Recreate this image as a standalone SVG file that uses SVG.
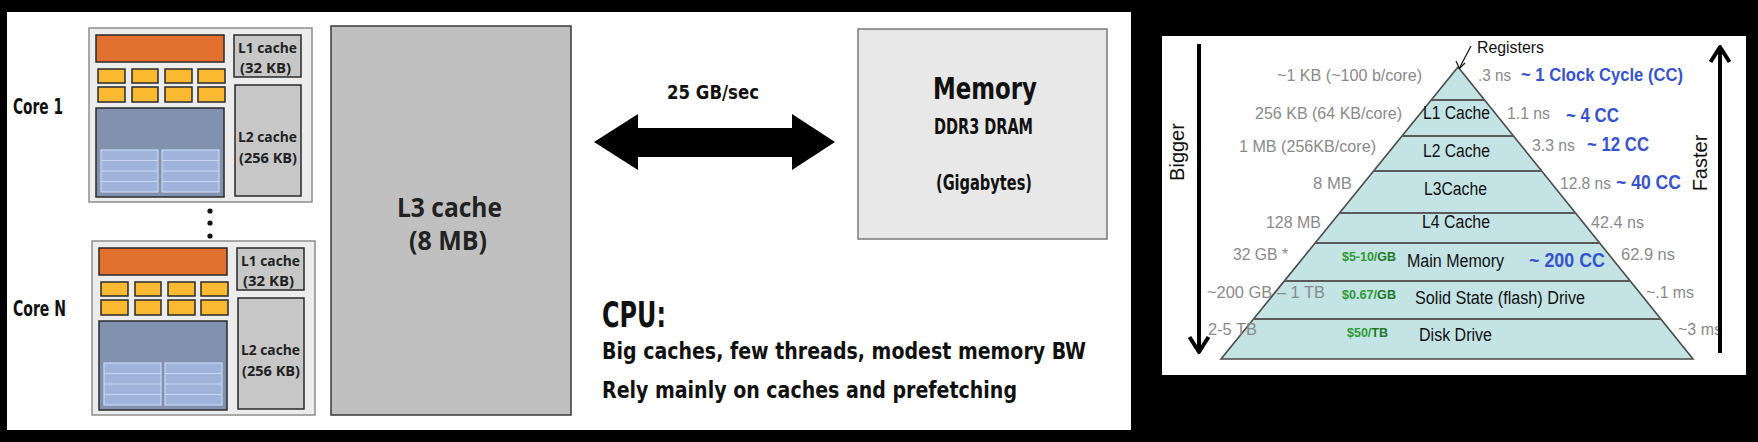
<svg xmlns="http://www.w3.org/2000/svg" width="1758" height="442" viewBox="0 0 1758 442">
<style>
.cond{font-family:"Liberation Sans Narrow","DejaVu Sans Condensed","Liberation Sans",Arial,sans-serif;font-weight:bold;fill:#111}
.semi{font-family:"Open Sans","Liberation Sans",Arial,sans-serif;font-weight:bold;fill:#222}
.ar{font-family:"Liberation Sans",Arial,sans-serif}
.gray{fill:#8a8a8a;font-size:17px}
.blk{fill:#111;font-size:18px}
.blue{fill:#3553d1;font-weight:bold;font-family:"Liberation Sans",Arial,sans-serif}
.grn{fill:#2f9a35;font-weight:bold;font-size:12px;font-family:"Liberation Sans",Arial,sans-serif}
.grn2{fill:#1f7a25}
.corebox{fill:#ececec;stroke:#8e8e8e;stroke-width:1.5}
.orange{fill:#e2702e;stroke:#2a2a2a;stroke-width:1.5}
.yel{fill:#fbb931;stroke:#2a2a2a;stroke-width:1.5}
.bluebox{fill:#8292ae;stroke:#2a2a2a;stroke-width:1.5}
.grid{fill:#9fb3db;stroke:#cbd8f4;stroke-width:1.2}
.cache{fill:#c7c7c7;stroke:#2a2a2a;stroke-width:1.5}
.band{fill:#c4e3e5;stroke:#4a4a4a;stroke-width:1.6}
.sep{stroke:#5a5a5a;stroke-width:1.8}
</style>
<rect x="0" y="0" width="1758" height="442" fill="#000"/>
<rect x="7" y="12" width="1124" height="418" fill="#fff"/>
<rect x="1162" y="36" width="584" height="339" fill="#fff"/>

<g id="core1">
  <rect class="corebox" x="89" y="28" width="223" height="174"/>
  <rect class="orange" x="96" y="35" width="128" height="27"/>
  <rect class="yel" x="98" y="69" width="27" height="14"/><rect class="yel" x="132" y="69" width="26" height="14"/><rect class="yel" x="165" y="69" width="27" height="14"/><rect class="yel" x="198" y="69" width="27" height="14"/>
  <rect class="yel" x="98" y="87" width="27" height="15"/><rect class="yel" x="132" y="87" width="26" height="15"/><rect class="yel" x="165" y="87" width="27" height="15"/><rect class="yel" x="198" y="87" width="27" height="15"/>
  <rect class="bluebox" x="96" y="108" width="128" height="89"/>
  <rect class="grid" x="101" y="150" width="57" height="42"/><rect class="grid" x="162" y="150" width="57" height="42"/>
  <path d="M101 160.5H158M101 171H158M101 181.5H158M162 160.5H219M162 171H219M162 181.5H219" stroke="#cbd8f4" stroke-width="1.2"/>
  <rect class="cache" x="234" y="35" width="67" height="42"/>
  <rect class="cache" x="235" y="85" width="66" height="111"/>
  <text class="semi" x="238" y="53" font-size="15" textLength="59" lengthAdjust="spacingAndGlyphs">L1 cache</text>
  <text class="semi" x="240" y="73" font-size="15" textLength="51" lengthAdjust="spacingAndGlyphs">(32 KB)</text>
  <text class="semi" x="238" y="142" font-size="15" textLength="59" lengthAdjust="spacingAndGlyphs">L2 cache</text>
  <text class="semi" x="239" y="163" font-size="15" textLength="58" lengthAdjust="spacingAndGlyphs">(256 KB)</text>
</g>
<g id="coreN" transform="translate(3,213)">
  <rect class="corebox" x="89" y="28" width="223" height="174"/>
  <rect class="orange" x="96" y="35" width="128" height="27"/>
  <rect class="yel" x="98" y="69" width="27" height="14"/><rect class="yel" x="132" y="69" width="26" height="14"/><rect class="yel" x="165" y="69" width="27" height="14"/><rect class="yel" x="198" y="69" width="27" height="14"/>
  <rect class="yel" x="98" y="87" width="27" height="15"/><rect class="yel" x="132" y="87" width="26" height="15"/><rect class="yel" x="165" y="87" width="27" height="15"/><rect class="yel" x="198" y="87" width="27" height="15"/>
  <rect class="bluebox" x="96" y="108" width="128" height="89"/>
  <rect class="grid" x="101" y="150" width="57" height="42"/><rect class="grid" x="162" y="150" width="57" height="42"/>
  <path d="M101 160.5H158M101 171H158M101 181.5H158M162 160.5H219M162 171H219M162 181.5H219" stroke="#cbd8f4" stroke-width="1.2"/>
  <rect class="cache" x="234" y="35" width="67" height="42"/>
  <rect class="cache" x="235" y="85" width="66" height="111"/>
  <text class="semi" x="238" y="53" font-size="15" textLength="59" lengthAdjust="spacingAndGlyphs">L1 cache</text>
  <text class="semi" x="240" y="73" font-size="15" textLength="51" lengthAdjust="spacingAndGlyphs">(32 KB)</text>
  <text class="semi" x="238" y="142" font-size="15" textLength="59" lengthAdjust="spacingAndGlyphs">L2 cache</text>
  <text class="semi" x="239" y="163" font-size="15" textLength="58" lengthAdjust="spacingAndGlyphs">(256 KB)</text>
</g>
<g id="labels-cores">
  <text class="cond" x="13" y="114" font-size="21" textLength="50" lengthAdjust="spacingAndGlyphs">Core 1</text>
  <text class="cond" x="13" y="316" font-size="21" textLength="53" lengthAdjust="spacingAndGlyphs">Core N</text>
  <circle cx="210" cy="211" r="2.6" fill="#111"/><circle cx="210" cy="223" r="2.6" fill="#111"/><circle cx="210" cy="236" r="2.6" fill="#111"/>
</g>
<g id="l3">
  <rect x="331" y="26" width="240" height="389" fill="#c0c0c0" stroke="#3a3a3a" stroke-width="1.5"/>
  <text class="semi" x="397" y="217" font-size="26" textLength="105" lengthAdjust="spacingAndGlyphs">L3 cache</text>
  <text class="semi" x="409" y="250" font-size="26" textLength="78" lengthAdjust="spacingAndGlyphs">(8 MB)</text>
</g>
<g id="memory">
  <rect x="858" y="29" width="249" height="210" fill="#e8e8e8" stroke="#7a7a7a" stroke-width="1.5"/>
  <text class="cond" x="933" y="99" font-size="30" textLength="104" lengthAdjust="spacingAndGlyphs">Memory</text>
  <text class="cond" x="934" y="134" font-size="21" textLength="99" lengthAdjust="spacingAndGlyphs">DDR3 DRAM</text>
  <text class="cond" x="936" y="190" font-size="21" textLength="96" lengthAdjust="spacingAndGlyphs">(Gigabytes)</text>
</g>
<g id="connectors">
  <polygon points="594,142 638,114 638,128 792,128 792,114 835,142 792,170 792,157 638,157 638,170" fill="#000"/>
  <text class="cond" x="667" y="99" font-size="20" textLength="92" lengthAdjust="spacingAndGlyphs">25 GB/sec</text>
</g>
<g id="cpu-text">
  <text class="cond" x="602" y="327" font-size="36" textLength="64" lengthAdjust="spacingAndGlyphs">CPU:</text>
  <text class="cond" x="602" y="359" font-size="23" textLength="484" lengthAdjust="spacingAndGlyphs">Big caches, few threads, modest memory BW</text>
  <text class="cond" x="602" y="398" font-size="23" textLength="415" lengthAdjust="spacingAndGlyphs">Rely mainly on caches and prefetching</text>
</g>

<g id="pyramid">
  <polygon class="band" points="1458,67 1693,359 1221,359"/>
  <path class="sep" d="M1431.2 100H1484.6M1402 136H1513.5M1373.6 171H1541.7M1339.5 213H1575.5M1315.2 243H1599.6M1284.3 281H1630.2M1253.5 319H1660.9"/>
  <g class="ar blk">
    <text x="1423" y="119" textLength="67" lengthAdjust="spacingAndGlyphs">L1 Cache</text>
    <text x="1423" y="157" textLength="67" lengthAdjust="spacingAndGlyphs">L2 Cache</text>
    <text x="1424" y="195" textLength="63" lengthAdjust="spacingAndGlyphs">L3Cache</text>
    <text x="1422" y="228" textLength="68" lengthAdjust="spacingAndGlyphs">L4 Cache</text>
    <text x="1407" y="267" textLength="97" lengthAdjust="spacingAndGlyphs">Main Memory</text>
    <text x="1415" y="304" textLength="170" lengthAdjust="spacingAndGlyphs">Solid State (flash) Drive</text>
    <text x="1419" y="341" textLength="73" lengthAdjust="spacingAndGlyphs">Disk Drive</text>
  </g>
  <text class="grn" x="1342" y="261" textLength="54" lengthAdjust="spacingAndGlyphs">$5-10/<tspan class="grn2">GB</tspan></text>
  <text class="grn" x="1342" y="299" textLength="54" lengthAdjust="spacingAndGlyphs">$0.67/<tspan class="grn2">GB</tspan></text>
  <text class="grn" x="1347" y="337" textLength="41" lengthAdjust="spacingAndGlyphs">$50/<tspan class="grn2">TB</tspan></text>
</g>
<g id="size-labels" class="ar gray">
  <text x="1277" y="81" textLength="145" lengthAdjust="spacingAndGlyphs">~1 KB (~100 b/core)</text>
  <text x="1255" y="119" textLength="147" lengthAdjust="spacingAndGlyphs">256 KB (64 KB/core)</text>
  <text x="1239" y="152" textLength="137" lengthAdjust="spacingAndGlyphs">1 MB (256KB/core)</text>
  <text x="1313" y="189" textLength="39" lengthAdjust="spacingAndGlyphs">8 MB</text>
  <text x="1266" y="228" textLength="55" lengthAdjust="spacingAndGlyphs">128 MB</text>
  <text x="1233" y="260" textLength="55" lengthAdjust="spacingAndGlyphs">32 GB *</text>
  <text x="1207" y="298" textLength="118" lengthAdjust="spacingAndGlyphs">~200 GB – 1 TB</text>
  <text x="1208" y="335" textLength="49" lengthAdjust="spacingAndGlyphs">2-5 TB</text>
</g>
<g id="speed-labels">
  <g class="ar gray">
    <text x="1478" y="81" textLength="33" lengthAdjust="spacingAndGlyphs">.3 ns</text>
    <text x="1507" y="119" textLength="43" lengthAdjust="spacingAndGlyphs">1.1 ns</text>
    <text x="1532" y="151" textLength="43" lengthAdjust="spacingAndGlyphs">3.3 ns</text>
    <text x="1560" y="189" textLength="51" lengthAdjust="spacingAndGlyphs">12.8 ns</text>
    <text x="1591" y="228" textLength="53" lengthAdjust="spacingAndGlyphs">42.4 ns</text>
    <text x="1621" y="260" textLength="54" lengthAdjust="spacingAndGlyphs">62.9 ns</text>
    <text x="1646" y="298" textLength="48" lengthAdjust="spacingAndGlyphs">~.1 ms</text>
    <text x="1678" y="335" textLength="44" lengthAdjust="spacingAndGlyphs">~3 ms</text>
  </g>
  <text class="blue" x="1521" y="81" font-size="18" textLength="162" lengthAdjust="spacingAndGlyphs">~ 1 Clock Cycle (CC)</text>
  <text class="blue" x="1566" y="122" font-size="20" textLength="53" lengthAdjust="spacingAndGlyphs">~ 4 CC</text>
  <text class="blue" x="1587" y="151" font-size="20" textLength="62" lengthAdjust="spacingAndGlyphs">~ 12 CC</text>
  <text class="blue" x="1616" y="189" font-size="20" textLength="65" lengthAdjust="spacingAndGlyphs">~ 40 CC</text>
  <text class="blue" x="1529" y="267" font-size="21" textLength="76" lengthAdjust="spacingAndGlyphs">~ 200 CC</text>
</g>
<g id="registers">
  <text class="ar" x="1477" y="53" font-size="16" fill="#111" textLength="67" lengthAdjust="spacingAndGlyphs">Registers</text>
  <path d="M1471 46L1460 67" stroke="#111" stroke-width="1.2" fill="none"/>
  <path d="M1456 61L1459.5 68.5L1465 63" stroke="#111" stroke-width="1.2" fill="none"/>
</g>
<g id="axes">
  <path d="M1199 44V351" stroke="#000" stroke-width="4"/>
  <path d="M1189.5 337L1199 352L1208.5 337" stroke="#000" stroke-width="4" fill="none" stroke-linejoin="round"/>
  <text class="ar" transform="translate(1184,152) rotate(-90)" text-anchor="middle" font-size="20" fill="#111">Bigger</text>
  <path d="M1720 353V47" stroke="#000" stroke-width="4"/>
  <path d="M1710.5 62L1720 47L1729.5 62" stroke="#000" stroke-width="4" fill="none" stroke-linejoin="round"/>
  <text class="ar" transform="translate(1707,163) rotate(-90)" text-anchor="middle" font-size="20" fill="#111">Faster</text>
</g>
</svg>
